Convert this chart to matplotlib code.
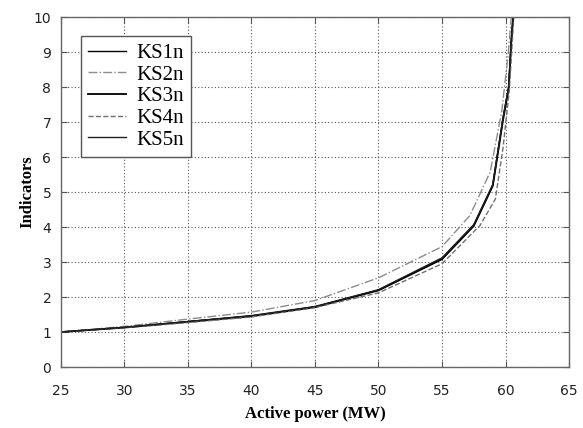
import matplotlib.pyplot as plt

# 读出的曲线数据 (Active power MW -> indicator)
x_ks1 = [25, 30, 35, 40, 45, 50, 55, 57.5, 59.0, 59.8, 60.25, 60.45, 60.6]
y_ks1 = [1.0, 1.13, 1.30, 1.46, 1.72, 2.20, 3.10, 4.05, 5.20, 7.10, 8.00, 9.30, 10.0]

x_ks2 = [25, 30, 35, 40, 45, 50, 55, 57.2, 58.8, 59.7, 60.2, 60.45]
y_ks2 = [1.0, 1.16, 1.37, 1.57, 1.90, 2.55, 3.44, 4.33, 5.58, 7.30, 8.90, 10.0]

x_ks3 = [25, 30, 35, 40, 45, 50, 55, 57.5, 59.0, 59.8, 60.25, 60.45, 60.6]
y_ks3 = [1.0, 1.13, 1.29, 1.45, 1.71, 2.19, 3.08, 4.03, 5.18, 7.05, 7.95, 9.25, 10.0]

x_ks4 = [25, 30, 35, 40, 45, 50, 55, 58.0, 59.2, 59.8, 60.3, 60.65]
y_ks4 = [1.0, 1.12, 1.27, 1.43, 1.70, 2.12, 2.95, 4.05, 4.80, 6.25, 7.90, 10.0]

x_ks5 = [25, 30, 35, 40, 45, 50, 55, 57.5, 59.0, 59.8, 60.25, 60.45, 60.6]
y_ks5 = [1.0, 1.13, 1.30, 1.47, 1.73, 2.21, 3.12, 4.07, 5.22, 7.12, 8.02, 9.32, 10.0]

x_ticks = [25, 30, 35, 40, 45, 50, 55, 60, 65]
y_ticks = list(range(0, 11))

fig = plt.figure(figsize=(5.83, 4.28), dpi=100)
ax = fig.add_axes([0.1046, 0.1425, 0.8714, 0.8175])

ax.plot(x_ks1, y_ks1, color='black', linestyle='-', lw=1.0, label='KS1n')
ax.plot(x_ks2, y_ks2, color='#8c8c8c', linestyle='-.', lw=1.0, label='KS2n')
ax.plot(x_ks3, y_ks3, color='black', linestyle='-', lw=1.3, label='KS3n')
ax.plot(x_ks4, y_ks4, color='#707070', linestyle='--', lw=1.0, label='KS4n')
ax.plot(x_ks5, y_ks5, color='#202020', linestyle='-', lw=1.0, label='KS5n')

ax.set_xlim(25, 65)
ax.set_ylim(0, 10)
ax.set_xticks(x_ticks)
ax.set_yticks(y_ticks)
ax.grid(True, color='#555555', linestyle=(0, (1, 2)), lw=0.8)
ax.tick_params(direction='in', length=4, labelsize=10, labelcolor='#222222', color='#555555',
               top=True, right=True)
ax.tick_params(axis='x', pad=12)
ax.tick_params(axis='y', pad=7)
for s in ax.spines.values():
    s.set_color('#666666')
    s.set_linewidth(1.0)

ax.set_xlabel('Active power (MW)', fontsize=12, fontweight='bold', family='Liberation Serif', labelpad=6)
ax.set_ylabel('Indicators', fontsize=12, fontweight='bold', family='Liberation Serif', labelpad=-1)

leg = ax.legend(loc='upper left', bbox_to_anchor=(0.039, 0.946), borderaxespad=0,
                prop={'family': 'Liberation Serif', 'size': 15},
                fancybox=False, edgecolor='#555555', framealpha=1, handlelength=1.8, handletextpad=0.5,
                labelspacing=0.1, borderpad=0.35)
leg.get_frame().set_linewidth(1.0)

fig.savefig('out.png', dpi=100)
